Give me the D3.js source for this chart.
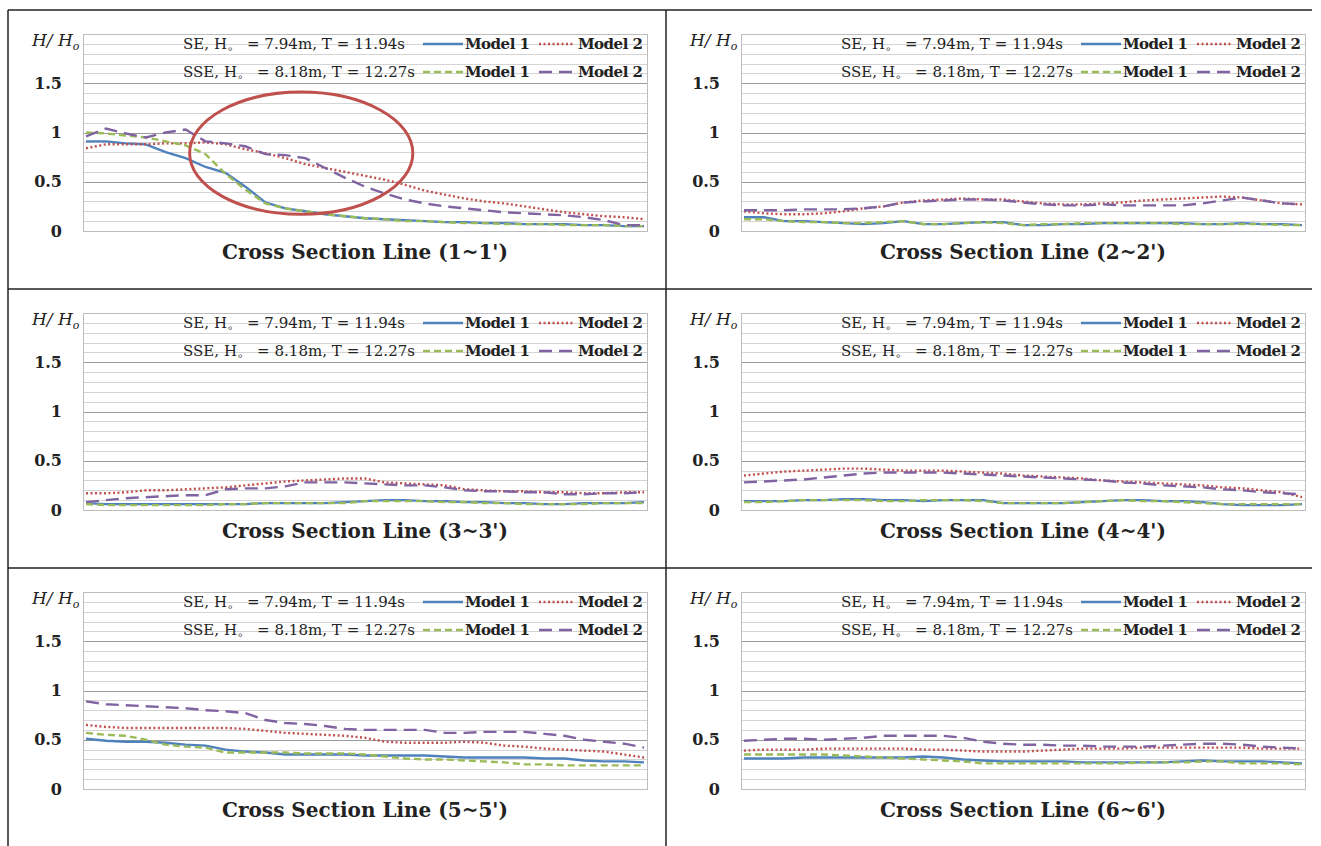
<!DOCTYPE html>
<html>
<head>
<meta charset="utf-8">
<script src="https://cdn.jsdelivr.net/npm/d3@7"></script>
<style>
body{margin:0;background:#fff;}
</style>
</head>
<body>
<script>
// stations along each cross section (0 = start of line, 28 = end)
var stations = d3.range(29);
var yTicks = [0, 0.5, 1, 1.5];
var sectionNames = ["1~1'", "2~2'", "3~3'", "4~4'", "5~5'", "6~6'"];
var caseLabels = ["SE, H\u3002 = 7.94m, T = 11.94s", "SSE, H\u3002 = 8.18m, T = 12.27s"];
var modelNames = ["Model 1", "Model 2"];

// 1~1'
var s1SeM1  = [0.91,0.91,0.89,0.88,0.80,0.74,0.65,0.59,0.45,0.29,0.23,0.20,0.17,0.15,0.13,0.12,0.11,0.10,0.09,0.09,0.08,0.08,0.07,0.07,0.07,0.06,0.06,0.05,0.05];
var s1SeM2  = [0.84,0.88,0.88,0.88,0.89,0.89,0.90,0.88,0.83,0.79,0.74,0.68,0.64,0.60,0.56,0.52,0.47,0.41,0.37,0.33,0.30,0.28,0.25,0.22,0.19,0.17,0.15,0.14,0.12];
var s1SseM1 = [1.00,0.99,0.97,0.95,0.91,0.87,0.78,0.58,0.42,0.28,0.23,0.20,0.17,0.15,0.13,0.12,0.10,0.10,0.09,0.08,0.08,0.07,0.07,0.07,0.06,0.06,0.06,0.05,0.05];
var s1SseM2 = [0.96,1.04,0.99,0.95,1.00,1.03,0.91,0.89,0.86,0.78,0.77,0.74,0.64,0.54,0.45,0.38,0.32,0.28,0.25,0.23,0.21,0.19,0.18,0.17,0.16,0.14,0.11,0.06,0.06];
// 2~2'
var s2SeM1  = [0.14,0.14,0.10,0.10,0.09,0.08,0.07,0.08,0.10,0.07,0.07,0.08,0.09,0.09,0.06,0.06,0.07,0.07,0.08,0.08,0.08,0.08,0.08,0.07,0.07,0.08,0.07,0.07,0.06];
var s2SeM2  = [0.20,0.18,0.17,0.17,0.18,0.20,0.23,0.25,0.29,0.31,0.32,0.33,0.32,0.32,0.30,0.28,0.27,0.27,0.28,0.29,0.31,0.32,0.33,0.34,0.35,0.34,0.31,0.28,0.27];
var s2SseM1 = [0.12,0.12,0.10,0.09,0.09,0.08,0.08,0.09,0.10,0.07,0.07,0.08,0.09,0.08,0.06,0.07,0.07,0.08,0.08,0.08,0.08,0.08,0.07,0.07,0.07,0.07,0.07,0.06,0.06];
var s2SseM2 = [0.21,0.21,0.21,0.22,0.22,0.22,0.23,0.25,0.29,0.30,0.31,0.32,0.32,0.31,0.29,0.27,0.26,0.26,0.27,0.26,0.26,0.26,0.26,0.28,0.31,0.34,0.31,0.28,0.27];
// 3~3'
var s3SeM1  = [0.07,0.06,0.06,0.06,0.06,0.06,0.06,0.06,0.06,0.07,0.07,0.07,0.07,0.08,0.09,0.10,0.10,0.09,0.09,0.08,0.08,0.07,0.07,0.06,0.06,0.07,0.07,0.07,0.08];
var s3SeM2  = [0.17,0.17,0.18,0.20,0.20,0.21,0.22,0.23,0.25,0.27,0.29,0.30,0.31,0.32,0.32,0.28,0.27,0.26,0.25,0.21,0.20,0.19,0.19,0.18,0.18,0.17,0.17,0.18,0.18];
var s3SseM1 = [0.06,0.05,0.05,0.05,0.05,0.05,0.05,0.06,0.06,0.07,0.07,0.07,0.07,0.07,0.09,0.09,0.09,0.09,0.08,0.08,0.07,0.07,0.06,0.06,0.06,0.06,0.07,0.07,0.07];
var s3SseM2 = [0.08,0.10,0.12,0.13,0.14,0.15,0.15,0.21,0.22,0.22,0.24,0.28,0.28,0.28,0.27,0.26,0.25,0.25,0.23,0.20,0.19,0.19,0.18,0.18,0.16,0.16,0.17,0.17,0.18];
// 4~4'
var s4SeM1  = [0.09,0.09,0.09,0.10,0.10,0.11,0.11,0.10,0.10,0.09,0.10,0.10,0.10,0.07,0.07,0.07,0.07,0.08,0.09,0.10,0.10,0.09,0.09,0.08,0.06,0.05,0.05,0.05,0.06];
var s4SeM2  = [0.35,0.37,0.39,0.40,0.41,0.42,0.42,0.41,0.40,0.40,0.40,0.39,0.38,0.37,0.35,0.34,0.33,0.32,0.30,0.29,0.28,0.27,0.26,0.25,0.23,0.22,0.20,0.18,0.13];
var s4SseM1 = [0.08,0.08,0.09,0.10,0.10,0.10,0.10,0.09,0.09,0.10,0.10,0.10,0.09,0.07,0.07,0.07,0.07,0.08,0.09,0.10,0.09,0.09,0.08,0.07,0.06,0.06,0.06,0.06,0.06];
var s4SseM2 = [0.28,0.29,0.30,0.31,0.33,0.35,0.37,0.38,0.38,0.38,0.38,0.37,0.36,0.35,0.34,0.33,0.32,0.31,0.30,0.28,0.27,0.25,0.24,0.23,0.21,0.20,0.18,0.17,0.16];
// 5~5'
var s5SeM1  = [0.51,0.49,0.48,0.48,0.47,0.45,0.44,0.40,0.38,0.37,0.35,0.35,0.35,0.35,0.34,0.34,0.34,0.34,0.33,0.32,0.32,0.32,0.32,0.31,0.31,0.29,0.28,0.28,0.27];
var s5SeM2  = [0.65,0.63,0.62,0.62,0.62,0.62,0.62,0.62,0.61,0.59,0.57,0.56,0.55,0.54,0.52,0.48,0.47,0.47,0.47,0.48,0.47,0.44,0.43,0.41,0.40,0.39,0.38,0.35,0.32];
var s5SseM1 = [0.57,0.55,0.54,0.50,0.45,0.43,0.42,0.37,0.37,0.37,0.37,0.36,0.36,0.36,0.35,0.33,0.31,0.30,0.30,0.29,0.28,0.27,0.25,0.25,0.24,0.24,0.24,0.24,0.24];
var s5SseM2 = [0.89,0.86,0.85,0.84,0.83,0.82,0.80,0.79,0.77,0.70,0.67,0.66,0.64,0.61,0.60,0.60,0.60,0.60,0.57,0.57,0.58,0.58,0.58,0.56,0.54,0.50,0.48,0.46,0.42];
// 6~6'
var s6SeM1  = [0.31,0.31,0.31,0.32,0.32,0.32,0.32,0.32,0.32,0.33,0.32,0.30,0.29,0.28,0.28,0.28,0.28,0.27,0.27,0.27,0.27,0.27,0.28,0.29,0.28,0.28,0.28,0.27,0.26];
var s6SeM2  = [0.39,0.40,0.40,0.40,0.41,0.41,0.41,0.41,0.41,0.40,0.40,0.39,0.38,0.38,0.38,0.39,0.40,0.41,0.41,0.41,0.42,0.42,0.42,0.42,0.42,0.42,0.41,0.41,0.41];
var s6SseM1 = [0.35,0.35,0.35,0.35,0.35,0.34,0.33,0.32,0.31,0.30,0.29,0.28,0.26,0.26,0.26,0.26,0.26,0.26,0.26,0.26,0.27,0.27,0.27,0.28,0.28,0.26,0.26,0.26,0.25];
var s6SseM2 = [0.49,0.50,0.51,0.51,0.50,0.51,0.52,0.54,0.54,0.54,0.54,0.52,0.48,0.46,0.45,0.45,0.44,0.44,0.43,0.43,0.43,0.44,0.45,0.46,0.46,0.45,0.43,0.42,0.41];

var panels = [
    [s1SeM1, s1SeM2, s1SseM1, s1SseM2],
    [s2SeM1, s2SeM2, s2SseM1, s2SseM2],
    [s3SeM1, s3SeM2, s3SseM1, s3SseM2],
    [s4SeM1, s4SeM2, s4SseM1, s4SseM2],
    [s5SeM1, s5SeM2, s5SseM1, s5SseM2],
    [s6SeM1, s6SeM2, s6SseM1, s6SseM2]
];

// SE model1, SE model2, SSE model1, SSE model2
var styles = [
    {color:"#4F81BD", dash:null},
    {color:"#C0504D", dash:"2,2.5"},
    {color:"#9BBB59", dash:"7,4"},
    {color:"#8064A2", dash:"13,7"}
];

var svg = d3.select("body").append("svg")
    .attr("width", 1321)
    .attr("height", 846);

var serif = "'DejaVu Serif', serif";

function drawPanel(values, idx)
{
    var col = idx % 2, row = Math.floor(idx / 2);
    var ox = 8 + col * 658, oy = 10 + row * 279;
    var left = ox + 75, top = oy + 24, width = 564, height = 197;

    var x = d3.scaleLinear().domain([0, 28]).range([3, width - 3]);
    var y = d3.scaleLinear().domain([0, 2]).range([height, 0]);

    var g = svg.append("g").attr("transform", "translate(" + left + "," + top + ")");

    // gridlines every 0.1, heavier every 0.5
    var grid = d3.range(0, 21).map(function(d){ return d / 10; });
    g.selectAll("line.grid")
        .data(grid)
        .enter()
        .append("line")
        .attr("x1", 0).attr("x2", width)
        .attr("y1", function(d){ return Math.round(y(d)) + 0.5; })
        .attr("y2", function(d){ return Math.round(y(d)) + 0.5; })
        .attr("stroke", function(d,i){ return i % 5 == 0 ? "#9c9c9c" : "#d4d4d4"; })
        .attr("stroke-width", 1);

    g.append("rect")
        .attr("x", 0.5).attr("y", 0.5)
        .attr("width", width).attr("height", height)
        .attr("fill", "none")
        .attr("stroke", "#bdbdbd");

    var yAxis = d3.axisLeft(y).tickValues(yTicks).tickSize(0).tickPadding(21)
        .tickFormat(function(d){ return d; });
    g.append("g").call(yAxis)
        .call(function(a){ a.select(".domain").remove(); })
        .selectAll("text")
        .attr("font-family", serif)
        .attr("font-weight", "bold")
        .attr("font-size", 16)
        .attr("fill", "#222");

    // H/Ho axis label
    var lab = svg.append("text")
        .attr("x", ox + 24).attr("y", oy + 36)
        .attr("font-family", serif)
        .attr("font-style", "italic")
        .attr("font-size", 17)
        .attr("fill", "#222")
        .text("H/ H");
    lab.append("tspan").attr("font-size", 11).attr("dy", 4).text("o");

    var line = d3.line()
        .x(function(d,i){ return x(stations[i]); })
        .y(function(d){ return y(d); })
        .curve(d3.curveLinear);

    values.forEach(function(s, k){
        g.append("path")
            .datum(s)
            .attr("d", line)
            .attr("fill", "none")
            .attr("stroke", styles[k].color)
            .attr("stroke-width", 2.4)
            .attr("stroke-dasharray", styles[k].dash);
    });

    // legend inside plot, right aligned
    var R = width;
    var rowsY = [15, 43];
    var caseLen = [222, 232];
    caseLabels.forEach(function(t, r){
        var ly = rowsY[r];
        g.append("text")
            .attr("x", R - 464).attr("y", ly)
            .attr("font-family", serif)
            .attr("font-size", 15)
            .attr("fill", "#222")
            .attr("textLength", caseLen[r])
            .attr("lengthAdjust", "spacing")
            .text(t);
        var sx = [[R - 224, R - 184], [R - 108, R - 72]];
        modelNames.forEach(function(m, j){
            var st = styles[r * 2 + j];
            g.append("line")
                .attr("x1", sx[j][0]).attr("x2", sx[j][1])
                .attr("y1", ly - 5).attr("y2", ly - 5)
                .attr("stroke", st.color)
                .attr("stroke-width", 2.4)
                .attr("stroke-dasharray", st.dash);
            g.append("text")
                .attr("x", j == 0 ? R - 182 : R - 69).attr("y", ly)
                .attr("font-family", serif)
                .attr("font-weight", "bold")
                .attr("font-size", 15)
                .attr("fill", "#222")
                .attr("textLength", 65)
                .attr("lengthAdjust", "spacing")
                .text(m);
        });
    });

    svg.append("text")
        .attr("x", left + width / 2).attr("y", oy + 249)
        .attr("text-anchor", "middle")
        .attr("font-family", serif)
        .attr("font-weight", "bold")
        .attr("font-size", 20)
        .attr("fill", "#222")
        .text("Cross Section Line (" + sectionNames[idx] + ")");

    return {g:g, x:x, y:y};
}

var first;
panels.forEach(function(p, i){
    var r = drawPanel(p, i);
    if(i == 0) first = r;
});

// highlight ellipse on section 1~1'
first.g.append("ellipse")
    .attr("cx", first.x(10.8))
    .attr("cy", first.y(0.79))
    .attr("rx", first.x(5.6) - first.x(0))
    .attr("ry", first.y(0) - first.y(0.62))
    .attr("fill", "none")
    .attr("stroke", "#C0504D")
    .attr("stroke-width", 3);

// panel frame
var frame = svg.append("g").attr("stroke", "#222").attr("stroke-width", 1.5);
frame.append("line").attr("x1", 8).attr("x2", 1312).attr("y1", 10).attr("y2", 10);
frame.append("line").attr("x1", 8).attr("x2", 1312).attr("y1", 289).attr("y2", 289);
frame.append("line").attr("x1", 8).attr("x2", 1312).attr("y1", 568).attr("y2", 568);
frame.append("line").attr("x1", 8).attr("x2", 8).attr("y1", 10).attr("y2", 846);
frame.append("line").attr("x1", 666).attr("x2", 666).attr("y1", 10).attr("y2", 846);
</script>
</body>
</html>
